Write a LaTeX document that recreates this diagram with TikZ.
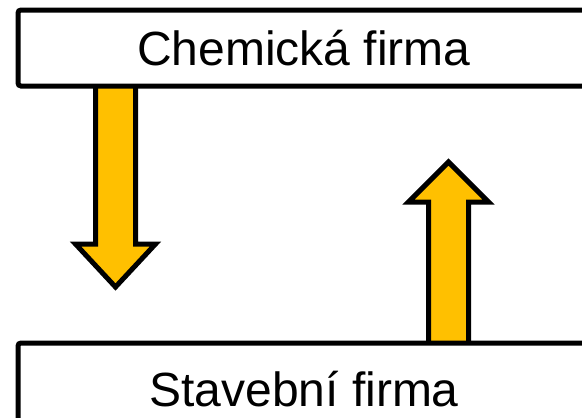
\documentclass[tikz,border=0pt]{standalone}
\usepackage{fontspec}
\setmainfont{Liberation Sans}
\definecolor{arrowyellow}{HTML}{FFC000}
\tikzset{
  firm/.style = {draw, line width=5pt, rounded corners=3pt, fill=white,
    font=\fontsize{48}{58}\selectfont, inner sep=0pt},
  blockarrow/.style = {draw, line width=5pt, fill=arrowyellow, miter limit=4}
}
\begin{document}
\begin{tikzpicture}[x=1pt, y=-1pt]
\clip (0,0) rectangle (582,418);
% arrows
\draw[blockarrow] (95.5,80) -- (135.5,80) -- (135.5,244) -- (155.5,244)
  -- (115.5,287) -- (75.5,244) -- (95.5,244) -- cycle;
\draw[blockarrow] (428.5,350) -- (468.5,350) -- (468.5,202) -- (488.5,202)
  -- (448.5,162) -- (408.5,202) -- (428.5,202) -- cycle;
% boxes
\path (304,48) node[firm, minimum width=572pt, minimum height=76pt] (chem) {Chemická firma};
\path (304,389) node[firm, minimum width=572pt, minimum height=92pt] (stav) {Stavební firma};
\end{tikzpicture}
\end{document}
